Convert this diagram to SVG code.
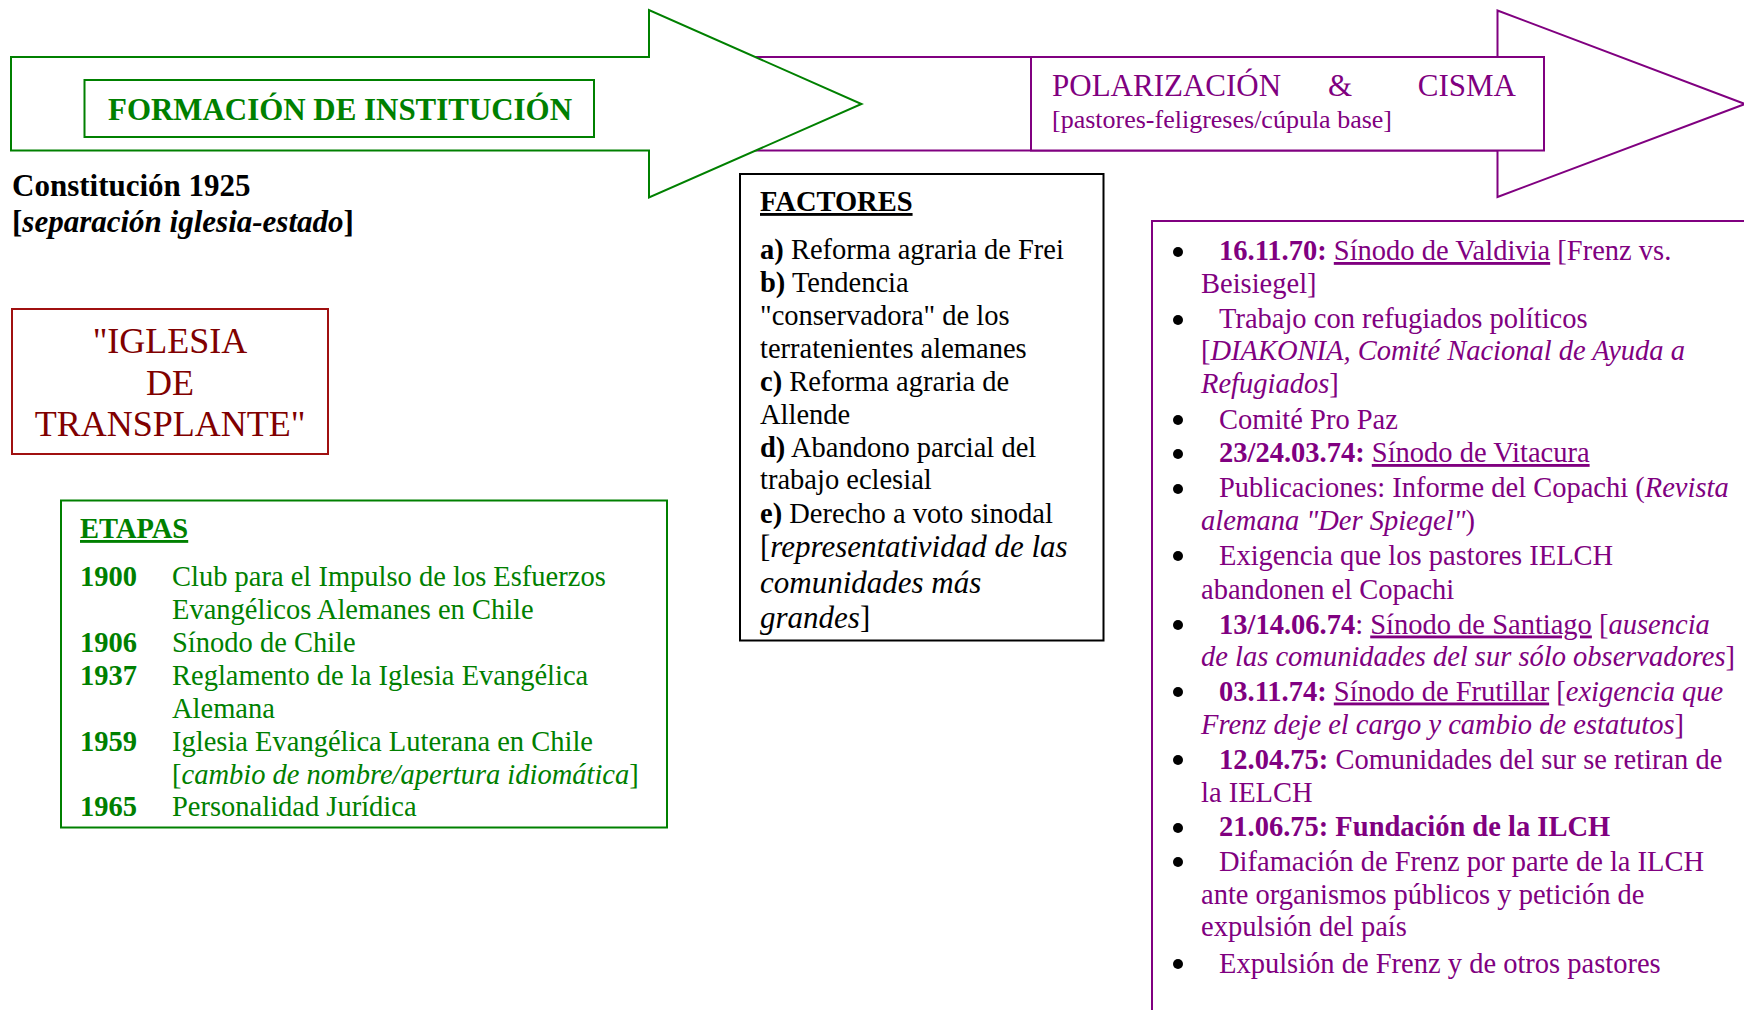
<svg xmlns="http://www.w3.org/2000/svg" width="1744" height="1010" viewBox="0 0 1744 1010">
<style>
text{font-family:"Liberation Serif","Times New Roman",serif;font-size:28.5px}
.g{fill:#008000}
.p{fill:#800080}
.k{fill:#000}
.r{fill:#800000}
.bo{font-weight:bold}
.it{font-style:italic}
.u{text-decoration:underline}
.big{font-size:31px}
.arrowG{fill:#fff;stroke:#008000;stroke-width:2}
.arrowP{fill:#fff;stroke:#800080;stroke-width:2}
.boxG{fill:#fff;stroke:#008000;stroke-width:2}
.boxP{fill:#fff;stroke:#800080;stroke-width:2}
.boxK{fill:#fff;stroke:#000;stroke-width:2}
.boxR{fill:#fff;stroke:#a01010;stroke-width:2}
.dot{fill:#000}
</style>
<rect width="1744" height="1010" fill="#fff"/>

<g id="arrow-polarizacion">
<path class="arrowP" d="M700,57 H1497.5 V10.5 L1745,104 L1497.5,197 V150.5 H700 Z"/>
</g>
<g id="arrow-formacion">
<path class="arrowG" d="M11,57 H649 V10 L861.5,104 L649,197.5 V150.5 H11 Z"/>
</g>

<g id="polarizacion-cisma">
<rect class="boxP" x="1031" y="57" width="513" height="93.5"/>
<text class="p big" x="1052" y="96">POLARIZACIÓN</text>
<text class="p big" x="1328" y="96">&amp;</text>
<text class="p big" x="1516" y="96" text-anchor="end">CISMA</text>
<text class="p" x="1052" y="128" style="font-size:26px">[pastores-feligreses/cúpula base]</text>
</g>

<g id="formacion-institucion">
<rect class="boxG" x="84.5" y="80" width="509.5" height="57"/>
<text class="g bo big" x="108" y="120" textLength="464" lengthAdjust="spacingAndGlyphs">FORMACIÓN DE INSTITUCIÓN</text>
</g>

<g id="constitucion">
<text class="k bo big" x="12" y="195.5">Constitución 1925</text>
<text class="k bo big" x="12" y="232">[<tspan class="it">separación iglesia-estado</tspan>]</text>
</g>

<g id="iglesia-transplante">
<rect class="boxR" x="12" y="309" width="316" height="145" fill="none"/>
<text class="r" x="170" y="353" text-anchor="middle" style="font-size:36px">"IGLESIA</text>
<text class="r" x="170" y="395" text-anchor="middle" style="font-size:36px">DE</text>
<text class="r" x="170" y="436" text-anchor="middle" style="font-size:36px">TRANSPLANTE"</text>
</g>

<g id="etapas">
<rect class="boxG" x="61" y="500.5" width="606" height="327"/>
<text class="g bo u" x="80" y="538">ETAPAS</text>
<text class="g bo" x="80" y="586">1900</text>
<text class="g" x="172" y="586">Club para el Impulso de los Esfuerzos</text>
<text class="g" x="172" y="619">Evangélicos Alemanes en Chile</text>
<text class="g bo" x="80" y="652">1906</text>
<text class="g" x="172" y="652">Sínodo de Chile</text>
<text class="g bo" x="80" y="684.5">1937</text>
<text class="g" x="172" y="684.5">Reglamento de la Iglesia Evangélica</text>
<text class="g" x="172" y="717.5">Alemana</text>
<text class="g bo" x="80" y="750.5">1959</text>
<text class="g" x="172" y="750.5">Iglesia Evangélica Luterana en Chile</text>
<text class="g" x="172" y="784">[<tspan class="it">cambio de nombre/apertura idiomática</tspan>]</text>
<text class="g bo" x="80" y="816">1965</text>
<text class="g" x="172" y="816">Personalidad Jurídica</text>
</g>

<g id="factores">
<rect class="boxK" x="740" y="174" width="363.5" height="466.5"/>
<text class="k bo u" x="760" y="211">FACTORES</text>
<text class="k" x="760" y="258.5"><tspan class="bo">a)</tspan> Reforma agraria de Frei</text>
<text class="k" x="760" y="291.5"><tspan class="bo">b)</tspan> Tendencia</text>
<text class="k" x="760" y="325">"conservadora" de los</text>
<text class="k" x="760" y="357.5">terratenientes alemanes</text>
<text class="k" x="760" y="390.5"><tspan class="bo">c)</tspan> Reforma agraria de</text>
<text class="k" x="760" y="423.5">Allende</text>
<text class="k" x="760" y="456.5"><tspan class="bo">d)</tspan> Abandono parcial del</text>
<text class="k" x="760" y="489">trabajo eclesial</text>
<text class="k" x="760" y="522.5"><tspan class="bo">e)</tspan> Derecho a voto sinodal</text>
<text class="k big" x="760" y="557">[<tspan class="it">representatividad de las</tspan></text>
<text class="k big it" x="760" y="593">comunidades más</text>
<text class="k big" x="760" y="628"><tspan class="it">grandes</tspan>]</text>
</g>

<g id="eventos">
<rect class="boxP" x="1152" y="221" width="620" height="820"/>
<circle class="dot" cx="1178" cy="252" r="5"/>
<text class="p" x="1219" y="260"><tspan class="bo">16.11.70:</tspan> <tspan class="u">Sínodo de Valdivia</tspan> [Frenz vs.</text>
<text class="p" x="1201" y="292.5">Beisiegel]</text>
<circle class="dot" cx="1178" cy="320" r="5"/>
<text class="p" x="1219" y="328">Trabajo con refugiados políticos</text>
<text class="p" x="1201" y="360">[<tspan class="it">DIAKONIA, Comité Nacional de Ayuda a</tspan></text>
<text class="p" x="1201" y="393"><tspan class="it">Refugiados</tspan>]</text>
<circle class="dot" cx="1178" cy="420" r="5"/>
<text class="p" x="1219" y="428.5">Comité Pro Paz</text>
<circle class="dot" cx="1178" cy="454" r="5"/>
<text class="p" x="1219" y="462"><tspan class="bo">23/24.03.74:</tspan> <tspan class="u">Sínodo de Vitacura</tspan></text>
<circle class="dot" cx="1178" cy="489" r="5"/>
<text class="p" x="1219" y="497">Publicaciones: Informe del Copachi (<tspan class="it">Revista</tspan></text>
<text class="p" x="1201" y="530"><tspan class="it">alemana "Der Spiegel"</tspan>)</text>
<circle class="dot" cx="1178" cy="556" r="5"/>
<text class="p" x="1219" y="564.5">Exigencia que los pastores IELCH</text>
<text class="p" x="1201" y="598.5">abandonen el Copachi</text>
<circle class="dot" cx="1178" cy="625" r="5"/>
<text class="p" x="1219" y="633.5"><tspan class="bo">13/14.06.74</tspan>: <tspan class="u">Sínodo de Santiago</tspan> [<tspan class="it">ausencia</tspan></text>
<text class="p" x="1201" y="666"><tspan class="it">de las comunidades del sur sólo observadores</tspan>]</text>
<circle class="dot" cx="1178" cy="692" r="5"/>
<text class="p" x="1219" y="700.5"><tspan class="bo">03.11.74:</tspan> <tspan class="u">Sínodo de Frutillar</tspan> [<tspan class="it">exigencia que</tspan></text>
<text class="p" x="1201" y="734"><tspan class="it">Frenz deje el cargo y cambio de estatutos</tspan>]</text>
<circle class="dot" cx="1178" cy="760" r="5"/>
<text class="p" x="1219" y="768.5"><tspan class="bo">12.04.75:</tspan> Comunidades del sur se retiran de</text>
<text class="p" x="1201" y="802">la IELCH</text>
<circle class="dot" cx="1178" cy="828" r="5"/>
<text class="p bo" x="1219" y="836">21.06.75: Fundación de la ILCH</text>
<circle class="dot" cx="1178" cy="862" r="5"/>
<text class="p" x="1219" y="870.5">Difamación de Frenz por parte de la ILCH</text>
<text class="p" x="1201" y="904">ante organismos públicos y petición de</text>
<text class="p" x="1201" y="936">expulsión del país</text>
<circle class="dot" cx="1178" cy="964" r="5"/>
<text class="p" x="1219" y="972.5">Expulsión de Frenz y de otros pastores</text>
</g>

<g id="connectors"></g>
</svg>
